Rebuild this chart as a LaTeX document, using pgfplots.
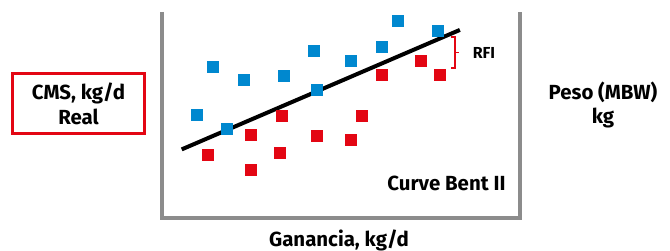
\documentclass[border=0pt]{standalone}
\usepackage{pgfplots}
\pgfplotsset{compat=1.18}
\usepackage{fontspec}
\setmainfont{Fira Sans}
\definecolor{rfired}{HTML}{E30613}
\definecolor{rfiblue}{HTML}{0088CF}
\definecolor{axgray}{HTML}{8C8C8C}
\begin{document}
\begin{tikzpicture}[x=1bp,y=1bp]
\begin{axis}[
  at={(0,0)}, anchor=south west,
  scale only axis, width=358bp, height=206bp,
  xmin=0, xmax=10, ymin=0, ymax=10,
  hide axis, clip=false,
]
\draw[line width=4bp, axgray] (rel axis cs:0,1) -- (rel axis cs:0,0) -- (rel axis cs:1,0) -- (rel axis cs:1,1);
\addplot[only marks, mark=square*, mark size=5.5bp, color=rfiblue, mark options={draw=none, fill=rfiblue}] coordinates {
 (0.96,5.03) (1.43,7.36) (1.80,4.32) (2.27,6.73) (3.39,6.93) (4.25,8.14)
 (4.31,6.25) (5.26,7.66) (6.15,8.33) (6.57,9.60) (7.69,9.11)
};
\addplot[only marks, mark=square*, mark size=5.5bp, color=rfired, mark options={draw=none, fill=rfired}] coordinates {
 (1.27,3.09) (2.49,4.06) (2.49,2.36) (3.33,4.99) (3.30,3.19) (4.31,4.01)
 (5.26,3.82) (5.57,4.99) (6.15,6.98) (7.22,7.66) (7.77,6.98)
};
\addplot[black, line width=4bp, no marks] coordinates {(0.55,3.33) (8.32,9.13)};
\draw[rfired, line width=1.6bp] (axis cs:8.07,8.79) -- (axis cs:8.18,8.79) -- (axis cs:8.18,7.28) -- (axis cs:8.07,7.28);
\draw[rfired, line width=1.6bp] (axis cs:8.18,8.03) -- (axis cs:8.30,8.03);
\end{axis}
\path[use as bounding box] (-162,-32) rectangle (508,218);
\node[font=\bfseries\fontsize{16}{18}\selectfont] at (322,165.3) {RFI};
\draw[rfired, line width=3bp] (-149,85) rectangle (-18,145);
\node[font=\bfseries\fontsize{20.5}{25}\selectfont, align=center] at (-83.5,114) {CMS, kg/d\\Real};
\node[font=\bfseries\fontsize{20.5}{25}\selectfont, align=center] at (441,113) {Peso (MBW)\\kg};
\node[font=\bfseries\fontsize{20.5}{22}\selectfont] at (177,-22) {Ganancia, kg/d};
\node[font=\bfseries\fontsize{20.5}{22}\selectfont, anchor=east] at (347,35) {Curve Bent II};
\end{tikzpicture}
\end{document}
